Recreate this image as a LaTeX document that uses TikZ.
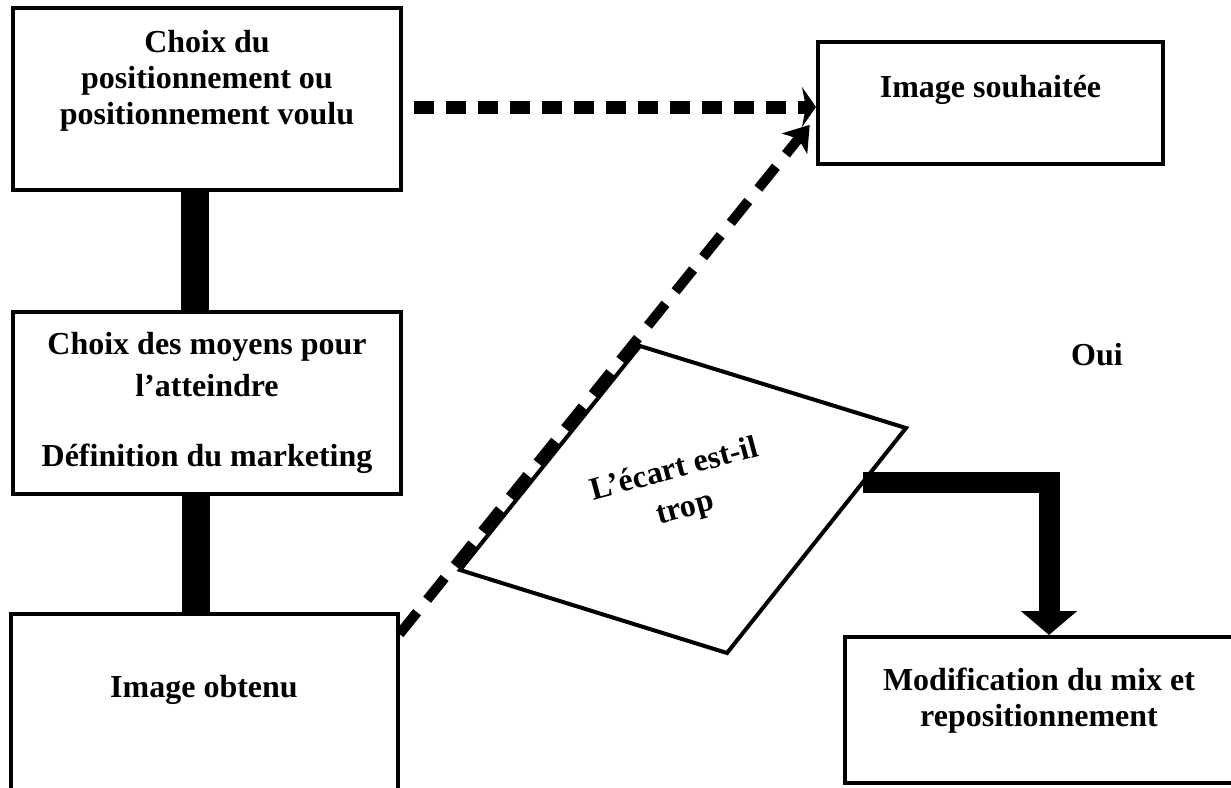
\documentclass[tikz,border=0pt]{standalone}
\usepackage{fontspec}
\setmainfont{Liberation Serif}
\usetikzlibrary{positioning,arrows.meta,calc}

\begin{document}
\begin{tikzpicture}[x=0.5pt,y=-0.5pt,main/.style={draw,line width=2pt,align=center,font=\bfseries\fontsize{16}{18}\selectfont},lbl/.style={align=center,font=\bfseries\fontsize{16}{18}\selectfont}]
\useasboundingbox (0,0) rectangle (1231,787);

\node[main,minimum width=194pt,minimum height=91pt,text depth=21.5pt] (choix) at (207,99) {Choix du\\positionnement ou\\positionnement voulu};
\node[main,minimum width=194pt,minimum height=91pt,font=\bfseries\fontsize{16}{21}\selectfont] (moyens) [below=59pt of choix] {Choix des moyens pour\\l’atteindre\\[14pt]Définition du marketing};
\node[main,minimum width=193.5pt,minimum height=89.5pt,text depth=17pt] (obtenu) [below=58pt of moyens,xshift=-1.5pt] {Image obtenu};
\node[main,minimum width=172.5pt,minimum height=61pt,text depth=16.5pt] (souhaitee) at (990.5,103) {Image souhaitée};
\node[main,minimum width=194pt,minimum height=73pt,text depth=12.5pt] (modif) at (1039,710) {Modification du mix et\\repositionnement};
\node[lbl] (oui) at (1097,355) {Oui};

% losange
\draw[line width=2pt,line join=miter] (640,346) coordinate (ecT) -- (906,428) coordinate (ecR) -- (727,653) coordinate (ecB) -- (460,570) coordinate (ecL) -- cycle;
\node[lbl,rotate=15,font=\bfseries\fontsize{16}{20}\selectfont] (ecart) at (680,490) {L’écart est-il\\trop};

\draw[line width=14pt] ([xshift=-6pt]choix.south) -- ([xshift=-6pt]moyens.north);
\draw[line width=14pt] ([xshift=-5.75pt]moyens.south) -- ([xshift=-4.25pt]obtenu.north);
\draw[line width=6.5pt,dash pattern=on 10pt off 6pt,shorten <=5.5pt,-{Stealth[length=7pt,width=20pt,inset=2pt]}] ($(choix.east |- souhaitee.west)+(0,4)$) -- ($(souhaitee.west)+(0,4)$);
\draw[line width=5pt,dash pattern=on 14pt off 8pt,shorten >=5pt,-{Stealth[length=12pt,width=16pt,inset=3pt]}] ($(obtenu.north east)+(0,22)$) -- ($(souhaitee.west)+(0,14)$);
\draw[line width=10.5pt,line join=miter,-{Triangle[length=12pt,width=27.5pt]}] ($(ecR)!0.24!(ecB)$) -| ([xshift=5pt]modif.north);
\end{tikzpicture}
\end{document}
